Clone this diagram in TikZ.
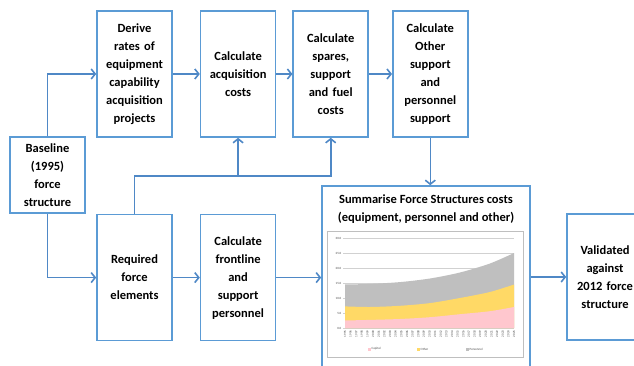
\documentclass[tikz,border=0pt]{standalone}
\usepackage{fontspec}
\setmainfont{Carlito}
\usetikzlibrary{arrows.meta,positioning,calc}
\definecolor{boxblue}{RGB}{91,155,213}
\definecolor{arrblue}{RGB}{79,136,198}
\definecolor{capcol}{RGB}{255,199,206}
\definecolor{othcol}{RGB}{255,217,102}
\definecolor{percol}{RGB}{191,191,191}

\begin{document}
\begin{tikzpicture} [x = 1pt, y = -1pt,
  stepbox/.style = {draw = boxblue, line width = 1.6pt, fill = white,
    minimum width = 75pt, minimum height = 126pt, text width = 72pt,
    align = center, inner sep = 0pt,
    font = \bfseries\fontsize{12.5}{18}\selectfont},
  flow/.style = {draw = arrblue, line width = 1.6pt,
    -{Straight Barb[length = 4pt, width = 10pt]}},
  tiny/.style = {font = \fontsize{3.2}{3.2}\selectfont, inner sep = 0.5pt, text = black!70}]
\useasboundingbox (0,0) rectangle (634,366);

% top row
\node [stepbox, minimum height = 76pt] (base) at (47.5,175) {Baseline\\(1995)\\force\\structure};
\node [stepbox] (derive) at (134.5,74) {Derive\\rates of\\equipment\\capability\\acquisition\\projects};
\node [stepbox] (acq) [right = 27pt of derive] {Calculate\\acquisition\\costs};
\node [stepbox] (spares) [right = 16pt of acq] {Calculate\\spares,\\support\\and fuel\\costs};
\node [stepbox] (other) [right = 23pt of spares] {Calculate\\Other\\support\\and\\personnel\\support};

% bottom row
\node [stepbox] (req) [below = 76pt of derive] {Required\\force\\elements};
\node [stepbox] (front) [right = 27pt of req] {Calculate\\frontline\\and\\support\\personnel};
\node [stepbox, minimum width = 208pt, minimum height = 186pt] (summ) at (426,279) {};
\node [stepbox, minimum width = 76pt] (valid) at (605,277) {Validated\\against\\2012 force\\structure};

% chart inside the summary box
\draw [black!25, line width = 0.8pt, fill = white] (327,231) rectangle (523,357);
\foreach \v in {0,5,...,30} {
  \draw [black!18, line width = 0.4pt] (343,{328-3*\v}) -- (514,{328-3*\v});
  \node [tiny, anchor = east] at (342,{328-3*\v}) {\v.0};
}
\fill [percol] plot [smooth] coordinates {(345,284.5) (370,283.9) (400,282.1) (430,278.5) (460,272.5) (490,263.5) (514,253)}
  -- (514,328) -- (345,328) -- cycle;
\fill [othcol] plot [smooth] coordinates {(345,306.4) (370,307) (400,305.8) (430,303.1) (460,298) (490,292) (514,284.5)}
  -- (514,328) -- (345,328) -- cycle;
\fill [capcol] plot [smooth] coordinates {(345,320.5) (370,319.9) (400,319) (430,317.2) (460,314.2) (490,311.2) (514,307)}
  -- (514,328) -- (345,328) -- cycle;
\foreach \i in {0,...,30}
  \node [tiny, rotate = 90, anchor = east] at ({345+\i*169/30},330) {\the\numexpr1995+\i\relax};
\fill [capcol] (368,347.5) rectangle (371,350.5);
\node [tiny, anchor = west] at (371,349) {Capital};
\fill [othcol] (417,347.5) rectangle (420,350.5);
\node [tiny, anchor = west] at (420,349) {Other};
\fill [percol] (466,347.5) rectangle (469,350.5);
\node [tiny, anchor = west] at (469,349) {Personnel};
\node [align = center, inner sep = 0pt, font = \bfseries\fontsize{12.5}{18}\selectfont]
  (summt) [below = 9pt of summ.north] {Summarise Force Structures costs\\(equipment, personnel and other)};

% connectors
\coordinate (jn) at ($(req.north)!0.5!(derive.south)$);
\draw [flow] (base.north) |- (derive.west);
\draw [flow] (base.south) |- (req.west);
\draw [flow] (derive) -- (acq);
\draw [flow] (acq) -- (spares);
\draw [flow] (spares) -- (other);
\draw [flow] (req.north) -- (jn) -| (spares.south);
\draw [flow] (jn -| acq.south) -- (acq.south);
\draw [flow] (other.south) -- (other.south |- summ.north);
\draw [flow] (req) -- (front);
\draw [flow] (front.east) -- (front.east -| summ.west);
\draw [flow] (summ.east |- valid.west) -- (valid.west);
\end{tikzpicture}
\end{document}
